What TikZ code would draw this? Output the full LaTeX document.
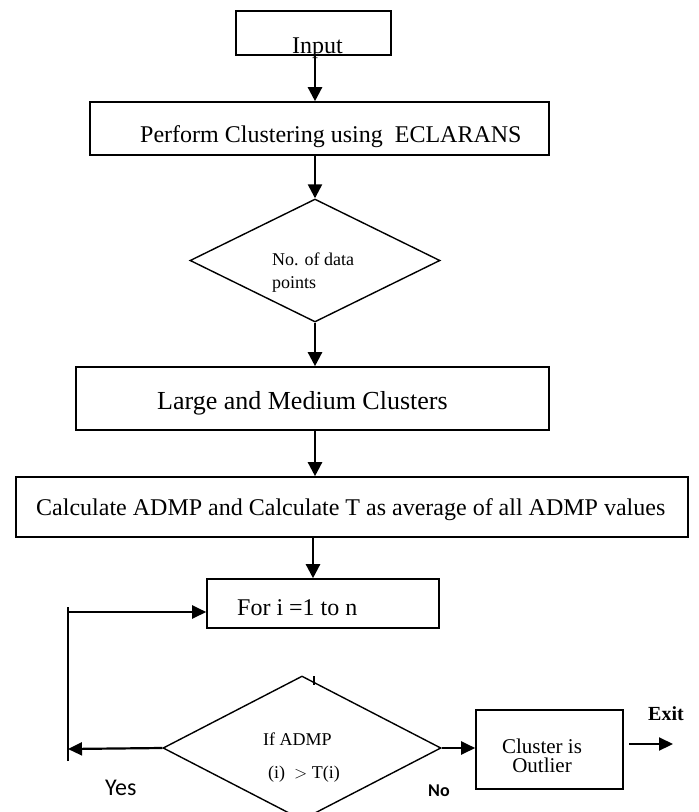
\documentclass[tikz,border=0pt]{standalone}
\usepackage{fontspec}
\setmainfont{Liberation Serif}
\newfontfamily\calib{Carlito}
\usetikzlibrary{arrows.meta,shapes.geometric}
\tikzset{
  x=1pt,y=-1pt,
  box/.style={draw,line width=1.6pt,rectangle,inner sep=0pt},
  dia/.style={draw,line width=1.4pt,diamond,inner sep=0pt},
  txt/.style={inner sep=0pt,anchor=base west},
  arr/.style={line width=2.4pt,-{Triangle[length=14pt,width=14pt]}},
  harr/.style={line width=2.2pt,-{Triangle[length=14pt,width=13pt]}},
  ln/.style={line width=2.2pt},
}
\begin{document}
\begin{tikzpicture}
\useasboundingbox (0,0) rectangle (699,812);
\clip (0,0) rectangle (699,812);
% nodes
\node[box,minimum width=155pt,minimum height=44pt] (input) at (313.5,33) {};
\node[txt,anchor=base] (inputtxt) at (317.5,53) {\fontsize{24}{28}\selectfont Input};
\node[box,minimum width=459pt,minimum height=53pt] (perform) at (319.5,128.5) {};
\node[txt] (performtxt) at (140,142) {\fontsize{24}{28}\selectfont Perform Clustering using\ \ ECLARANS};
\node[dia,minimum width=250pt,minimum height=123pt] (d1) at (315,260.5) {};
\node[txt] (d1a) at (272,265) {\fontsize{18}{22}\selectfont No. of data};
\node[txt] (d1b) at (272,288) {\fontsize{18}{22}\selectfont points};
\node[box,minimum width=473pt,minimum height=63pt] (large) at (312.5,398.5) {};
\node[txt] (largetxt) at (157,409) {\fontsize{26}{30}\selectfont Large and Medium Clusters};
\node[box,minimum width=672pt,minimum height=60pt] (calc) at (352,507) {};
\node[txt] (calctxt) at (36,515) {\fontsize{24}{28}\selectfont Calculate ADMP and Calculate T as average of all ADMP values};
\node[box,minimum width=232pt,minimum height=49pt] (fori) at (323,603.5) {};
\node[txt] (foritxt) at (237,615) {\fontsize{24}{28}\selectfont For i =1 to n};
\node[dia,minimum width=278pt,minimum height=144pt] (d2) at (302,748) {};
\node[txt] (d2a) at (263,745) {\fontsize{18}{22}\selectfont If ADMP};
\node[txt] (d2b) at (268,778) {\fontsize{18}{22}\selectfont (i)\ \ $>$ T(i)};
\node[box,minimum width=147pt,minimum height=79pt] (outl) at (549.5,749.5) {};
\node[txt,anchor=base] (outla) at (542,753) {\fontsize{21}{22}\selectfont Cluster is};
\node[txt,anchor=base] (outlb) at (542,772) {\fontsize{21}{22}\selectfont Outlier};
\node[txt] (yes) at (105,795) {\calib\fontsize{24}{28}\selectfont Yes};
\node[txt] (no) at (428,796) {\calib\bfseries\fontsize{18}{22}\selectfont No};
\node[txt] (exit) at (648,720) {\bfseries\fontsize{20}{24}\selectfont Exit};
\coordinate (loopbot) at (68,749);
\coordinate (looptop) at (68,612);
\coordinate (exitend) at (673,744);
% connectors
\draw[arr] (input.south -| 315,0) -- (perform.north -| 315,0);
\draw[arr] (perform.south -| 315,0) -- (d1.north);
\draw[arr] (d1.south) -- (large.north -| d1.south);
\draw[arr] (large.south -| 315,0) -- (calc.north -| 315,0);
\draw[arr] (calc.south -| 313,0) -- (fori.north -| 313,0);
\draw[ln] (314,676) -- (314,685);
\draw[harr] (d2.west) -- (loopbot);
\draw[ln] ([yshift=-12pt]loopbot) -- ([yshift=5pt]looptop);
\draw[harr] (looptop) -- (fori.west |- looptop);
\draw[harr] (d2.east) -- (outl.west |- d2.east);
\draw[harr] (629,744) -- (exitend);
\end{tikzpicture}
\end{document}
